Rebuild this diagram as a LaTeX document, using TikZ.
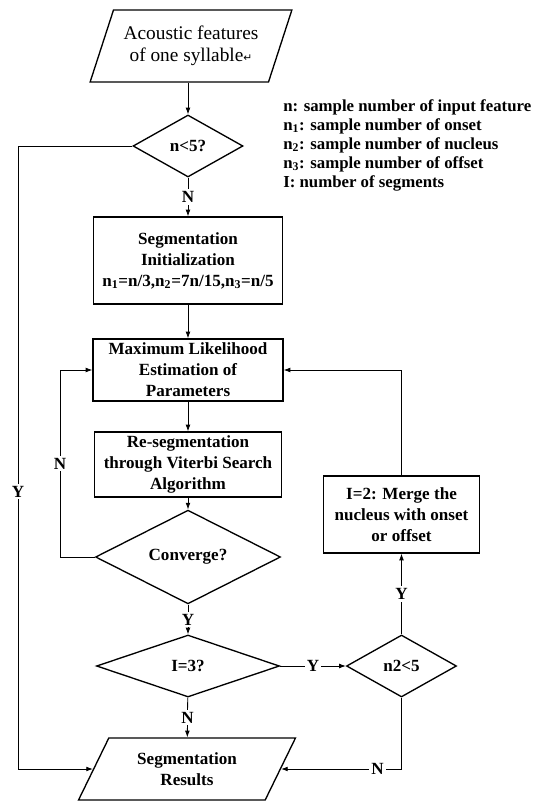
\documentclass[tikz,border=0pt]{standalone}
\usepackage{fontspec}
\setmainfont{Liberation Serif}
\newfontfamily\symfont{DejaVu Sans}
\usetikzlibrary{arrows.meta,shapes.geometric}

\begin{document}
\begin{tikzpicture}[x=0.75pt,y=-0.75pt,
  >={Latex[length=5pt,width=3.6pt]},
  every node/.style={font=\fontsize{12.8}{15.75}\selectfont\bfseries},
  proc/.style={draw,line width=1pt,align=center,inner sep=1pt},
  cond/.style={draw,line width=1pt,diamond,inner sep=0pt},
  io/.style={draw,line width=1pt,trapezium,trapezium stretches=true,align=center,inner sep=1pt},
  conn/.style={line width=0.6pt},
  lbl/.style={fill=white,inner sep=1.5pt}]
  \useasboundingbox (0,0) rectangle (550,802);

  \node[io,trapezium left angle=64,trapezium right angle=116,minimum width=151.5pt,minimum height=54pt,
    font=\fontsize{14.5}{16.5}\selectfont] (feat) at (191,46)
    {Acoustic features\\of one syllable{\symfont\fontsize{8}{8}\selectfont ↵}};
  \node[cond,minimum width=82.5pt,minimum height=46.5pt] (few) at (188,146) {n<5?};
  \node[proc,minimum width=141.75pt,minimum height=65.25pt] (init) at (188,260.5)
    {Segmentation\\Initialization\\n\textsubscript{1}=n/3,n\textsubscript{2}=7n/15,n\textsubscript{3}=n/5};
  \node[proc,minimum width=142.5pt,minimum height=46.5pt] (mle) at (188,370)
    {Maximum Likelihood\\Estimation of\\Parameters};
  \node[proc,minimum width=140.25pt,minimum height=48.75pt] (reseg) at (188,464.5)
    {Re-segmentation\\through Viterbi Search\\Algorithm};
  \node[cond,minimum width=138.75pt,minimum height=47.25pt] (conv) at (188,557) {Converge?};
  \node[cond,minimum width=137.25pt,minimum height=46.5pt] (seg3) at (188,666) {I=3?};
  \node[cond,minimum width=82.5pt,minimum height=46.5pt] (nuc) at (401.5,666) {n2<5};
  \node[proc,minimum width=117pt,minimum height=57.75pt] (merge) at (401.5,514.5)
    {I=2: Merge the\\nucleus with onset\\or offset};
  \node[io,trapezium left angle=61,trapezium right angle=119,minimum width=162.75pt,minimum height=46.5pt]
    (res) at (187,769) {Segmentation\\Results};
  \node[anchor=west,align=left,inner sep=0pt,font=\fontsize{12.6}{14.25}\selectfont\bfseries] (key) at (283,145)
    {n: sample number of input feature\\
     n\textsubscript{1}: sample number of onset\\
     n\textsubscript{2}: sample number of nucleus\\
     n\textsubscript{3}: sample number of offset\\
     I: number of segments};

  \coordinate (lx) at (18,0);
  \coordinate (cx) at (60,0);

  \draw[conn,->] (few.north |- feat.south) -- (few.north);
  \draw[conn,->] (few) -- node[lbl]{N} (init);
  \draw[conn,->] (few.west) -- (few.west -| lx) -- node[lbl,pos=0.555]{Y} (res.west -| lx) -- (res.west);
  \draw[conn,->] (init) -- (mle);
  \draw[conn,->] (mle) -- (reseg);
  \draw[conn,->] (reseg) -- (conv);
  \draw[conn,->] (conv.west) -- (conv.west -| cx) -- node[lbl]{N} (mle.west -| cx) -- (mle.west);
  \draw[conn,->] (conv) -- node[lbl]{Y} (seg3);
  \draw[conn,->] (seg3) -- node[lbl]{N} (res);
  \draw[conn,->] (seg3) -- node[lbl]{Y} (nuc);
  \draw[conn,->] (nuc) -- node[lbl]{Y} (merge);
  \draw[conn,->] (nuc.south) -- (nuc.south |- res.east) -- node[lbl,pos=0.2]{N} (res.east);
  \draw[conn,->] (merge.north) -- (merge.north |- mle.east) -- (mle.east);
\end{tikzpicture}
\end{document}
